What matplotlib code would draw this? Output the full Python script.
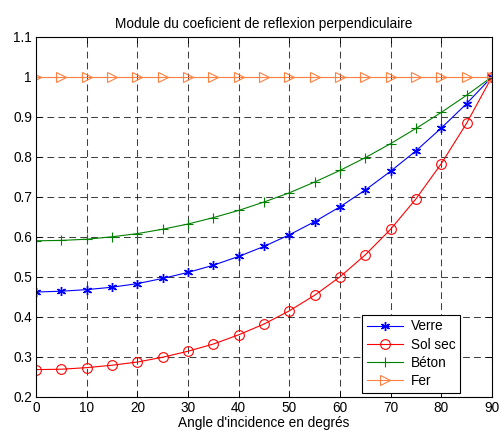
import numpy as np
from matplotlib import pyplot as plt

plt.rcParams['font.family'] = ['Liberation Sans', 'DejaVu Sans']

# angles d'incidence (degres)
angles = [0, 5, 10, 15, 20, 25, 30, 35, 40, 45, 50, 55, 60, 65, 70, 75, 80, 85, 90]

# module du coefficient de reflexion perpendiculaire
verre = [0.462, 0.464, 0.468, 0.474, 0.483, 0.496, 0.511, 0.529, 0.551, 0.576,
         0.605, 0.638, 0.675, 0.717, 0.764, 0.815, 0.872, 0.933, 1.0]
sol_sec = [0.268, 0.269, 0.273, 0.279, 0.287, 0.299, 0.314, 0.332, 0.355, 0.382,
           0.415, 0.454, 0.500, 0.555, 0.619, 0.695, 0.783, 0.884, 1.0]
beton = [0.590, 0.591, 0.594, 0.600, 0.608, 0.619, 0.632, 0.648, 0.666, 0.687,
         0.710, 0.737, 0.766, 0.798, 0.833, 0.871, 0.911, 0.954, 1.0]
fer = [1.0] * 19

fig = plt.figure(figsize=(5.01, 4.38), dpi=100)
ax = fig.add_axes([0.072, 0.094, 0.910, 0.822])

ax.plot(angles, verre, '-', marker=(6, 2, 0), color='blue', lw=0.8, ms=6.5, mew=1.0, label='Verre')
ax.plot(angles, sol_sec, '-o', color='red', lw=0.8, ms=7, mfc='none', mew=0.8, label='Sol sec')
ax.plot(angles, beton, '-+', color=(0, 0.5, 0), lw=0.8, ms=7, mew=0.8, label='Béton')
ax.plot(angles, fer, '->', color='#FF8040', lw=0.8, ms=7, mfc='none', mew=0.8, label='Fer')

ax.set_xlim(0, 90)
ax.set_ylim(0.2, 1.1)
ax.set_xticks(np.arange(0, 91, 10))
ax.set_yticks([0.2, 0.3, 0.4, 0.5, 0.6, 0.7, 0.8, 0.9, 1, 1.1])
ax.set_yticklabels(['0.2', '0.3', '0.4', '0.5', '0.6', '0.7', '0.8', '0.9', '1', '1.1'])
ax.tick_params(direction='in', top=True, right=True, labelsize=9.8, length=4, width=0.6, pad=3)
ax.grid(True, color='black', linestyle=(0, (6.5, 4)), linewidth=0.75, alpha=0.75)
for s in ax.spines.values():
    s.set_linewidth(0.8)

ax.set_title('Module du coeficient de reflexion perpendiculaire', fontsize=9.8, pad=6)
ax.set_xlabel("Angle d'incidence en degrés", fontsize=9.8, labelpad=1)

leg = ax.legend(loc='lower right', bbox_to_anchor=(0.93, 0.012), fontsize=9.8, fancybox=False,
                framealpha=1, edgecolor='black', handlelength=2.6, borderpad=0.35,
                labelspacing=0.3, handletextpad=0.6, borderaxespad=0)
leg.get_frame().set_linewidth(0.8)

plt.savefig('out.png', dpi=100)
